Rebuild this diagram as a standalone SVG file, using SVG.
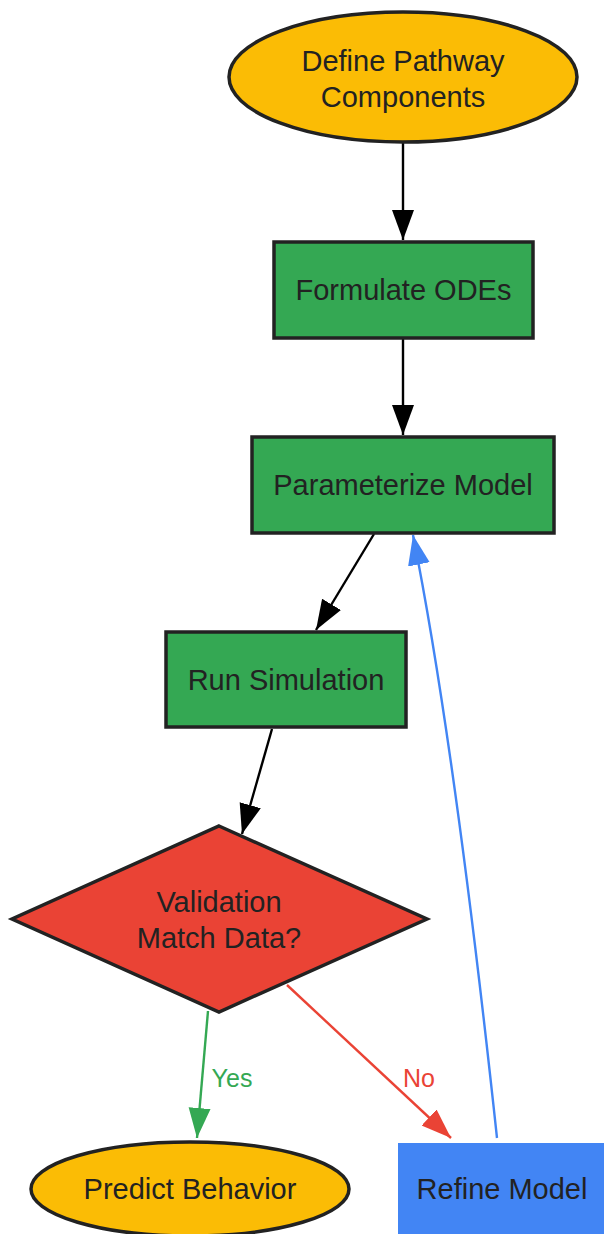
<svg xmlns="http://www.w3.org/2000/svg" width="604" height="1234" viewBox="0 0 604 1234">
<defs>
<style>
.node{stroke:#222;stroke-width:3.5}
.t{font-family:"Liberation Sans",Arial,sans-serif;font-size:29px;fill:#222;text-anchor:middle;dominant-baseline:central}
.lbl{font-family:"Liberation Sans",Arial,sans-serif;font-size:25px;text-anchor:middle;dominant-baseline:central}
.e{fill:none;stroke-width:2.4}
</style>
<marker id="ak" markerUnits="userSpaceOnUse" markerWidth="32" markerHeight="24" refX="30" refY="11" orient="auto"><path d="M0,0 L30,11 L0,22 z" fill="#000"/></marker>
<marker id="ag" markerUnits="userSpaceOnUse" markerWidth="32" markerHeight="24" refX="30" refY="11" orient="auto"><path d="M0,0 L30,11 L0,22 z" fill="#34a853"/></marker>
<marker id="ar" markerUnits="userSpaceOnUse" markerWidth="32" markerHeight="24" refX="30" refY="11" orient="auto"><path d="M0,0 L30,11 L0,22 z" fill="#ea4335"/></marker>
<marker id="ab" markerUnits="userSpaceOnUse" markerWidth="32" markerHeight="24" refX="30" refY="11" orient="auto"><path d="M0,0 L30,11 L0,22 z" fill="#4285f4"/></marker>
</defs>
<rect width="604" height="1234" fill="#fff"/>
<g id="connectors">
<path class="e" stroke="#000" d="M403,143 L403,240" marker-end="url(#ak)"/>
<path class="e" stroke="#000" d="M403,338 L403,435" marker-end="url(#ak)"/>
<path class="e" stroke="#000" d="M374,534 L316,630" marker-end="url(#ak)"/>
<path class="e" stroke="#000" d="M272,729 L242,834" marker-end="url(#ak)"/>
<path class="e" stroke="#34a853" d="M208,1011 L197,1138" marker-end="url(#ag)"/>
<path class="e" stroke="#ea4335" d="M287,985 L451,1138" marker-end="url(#ar)"/>
<path class="e" stroke="#4285f4" d="M497,1138 C480,980 450,720 413,535" marker-end="url(#ab)"/>
<text class="lbl" x="232" y="1078" fill="#34a853">Yes</text>
<text class="lbl" x="419" y="1078" fill="#ea4335">No</text>
</g>
<g id="define">
<ellipse class="node" cx="403" cy="77" rx="174" ry="65" fill="#fbbc05"/>
<text class="t" x="403" y="61">Define Pathway</text>
<text class="t" x="403" y="97">Components</text>
</g>
<g id="formulate">
<rect class="node" x="274" y="242" width="259" height="96" fill="#34a853"/>
<text class="t" x="403.5" y="290">Formulate ODEs</text>
</g>
<g id="parameterize">
<rect class="node" x="252" y="437" width="302" height="96" fill="#34a853"/>
<text class="t" x="403" y="485">Parameterize Model</text>
</g>
<g id="run">
<rect class="node" x="166" y="632" width="240" height="95" fill="#34a853"/>
<text class="t" x="286" y="680">Run Simulation</text>
</g>
<g id="validation">
<polygon class="node" points="219,826 427,919 219,1012 12,919" fill="#ea4335"/>
<text class="t" x="219" y="902">Validation</text>
<text class="t" x="219" y="938">Match Data?</text>
</g>
<g id="predict">
<ellipse class="node" cx="190" cy="1189" rx="159" ry="47" fill="#fbbc05"/>
<text class="t" x="190" y="1189">Predict Behavior</text>
</g>
<g id="refine">
<rect x="398" y="1143" width="210" height="96" fill="#4285f4"/>
<text class="t" x="502" y="1189">Refine Model</text>
</g>
</svg>
